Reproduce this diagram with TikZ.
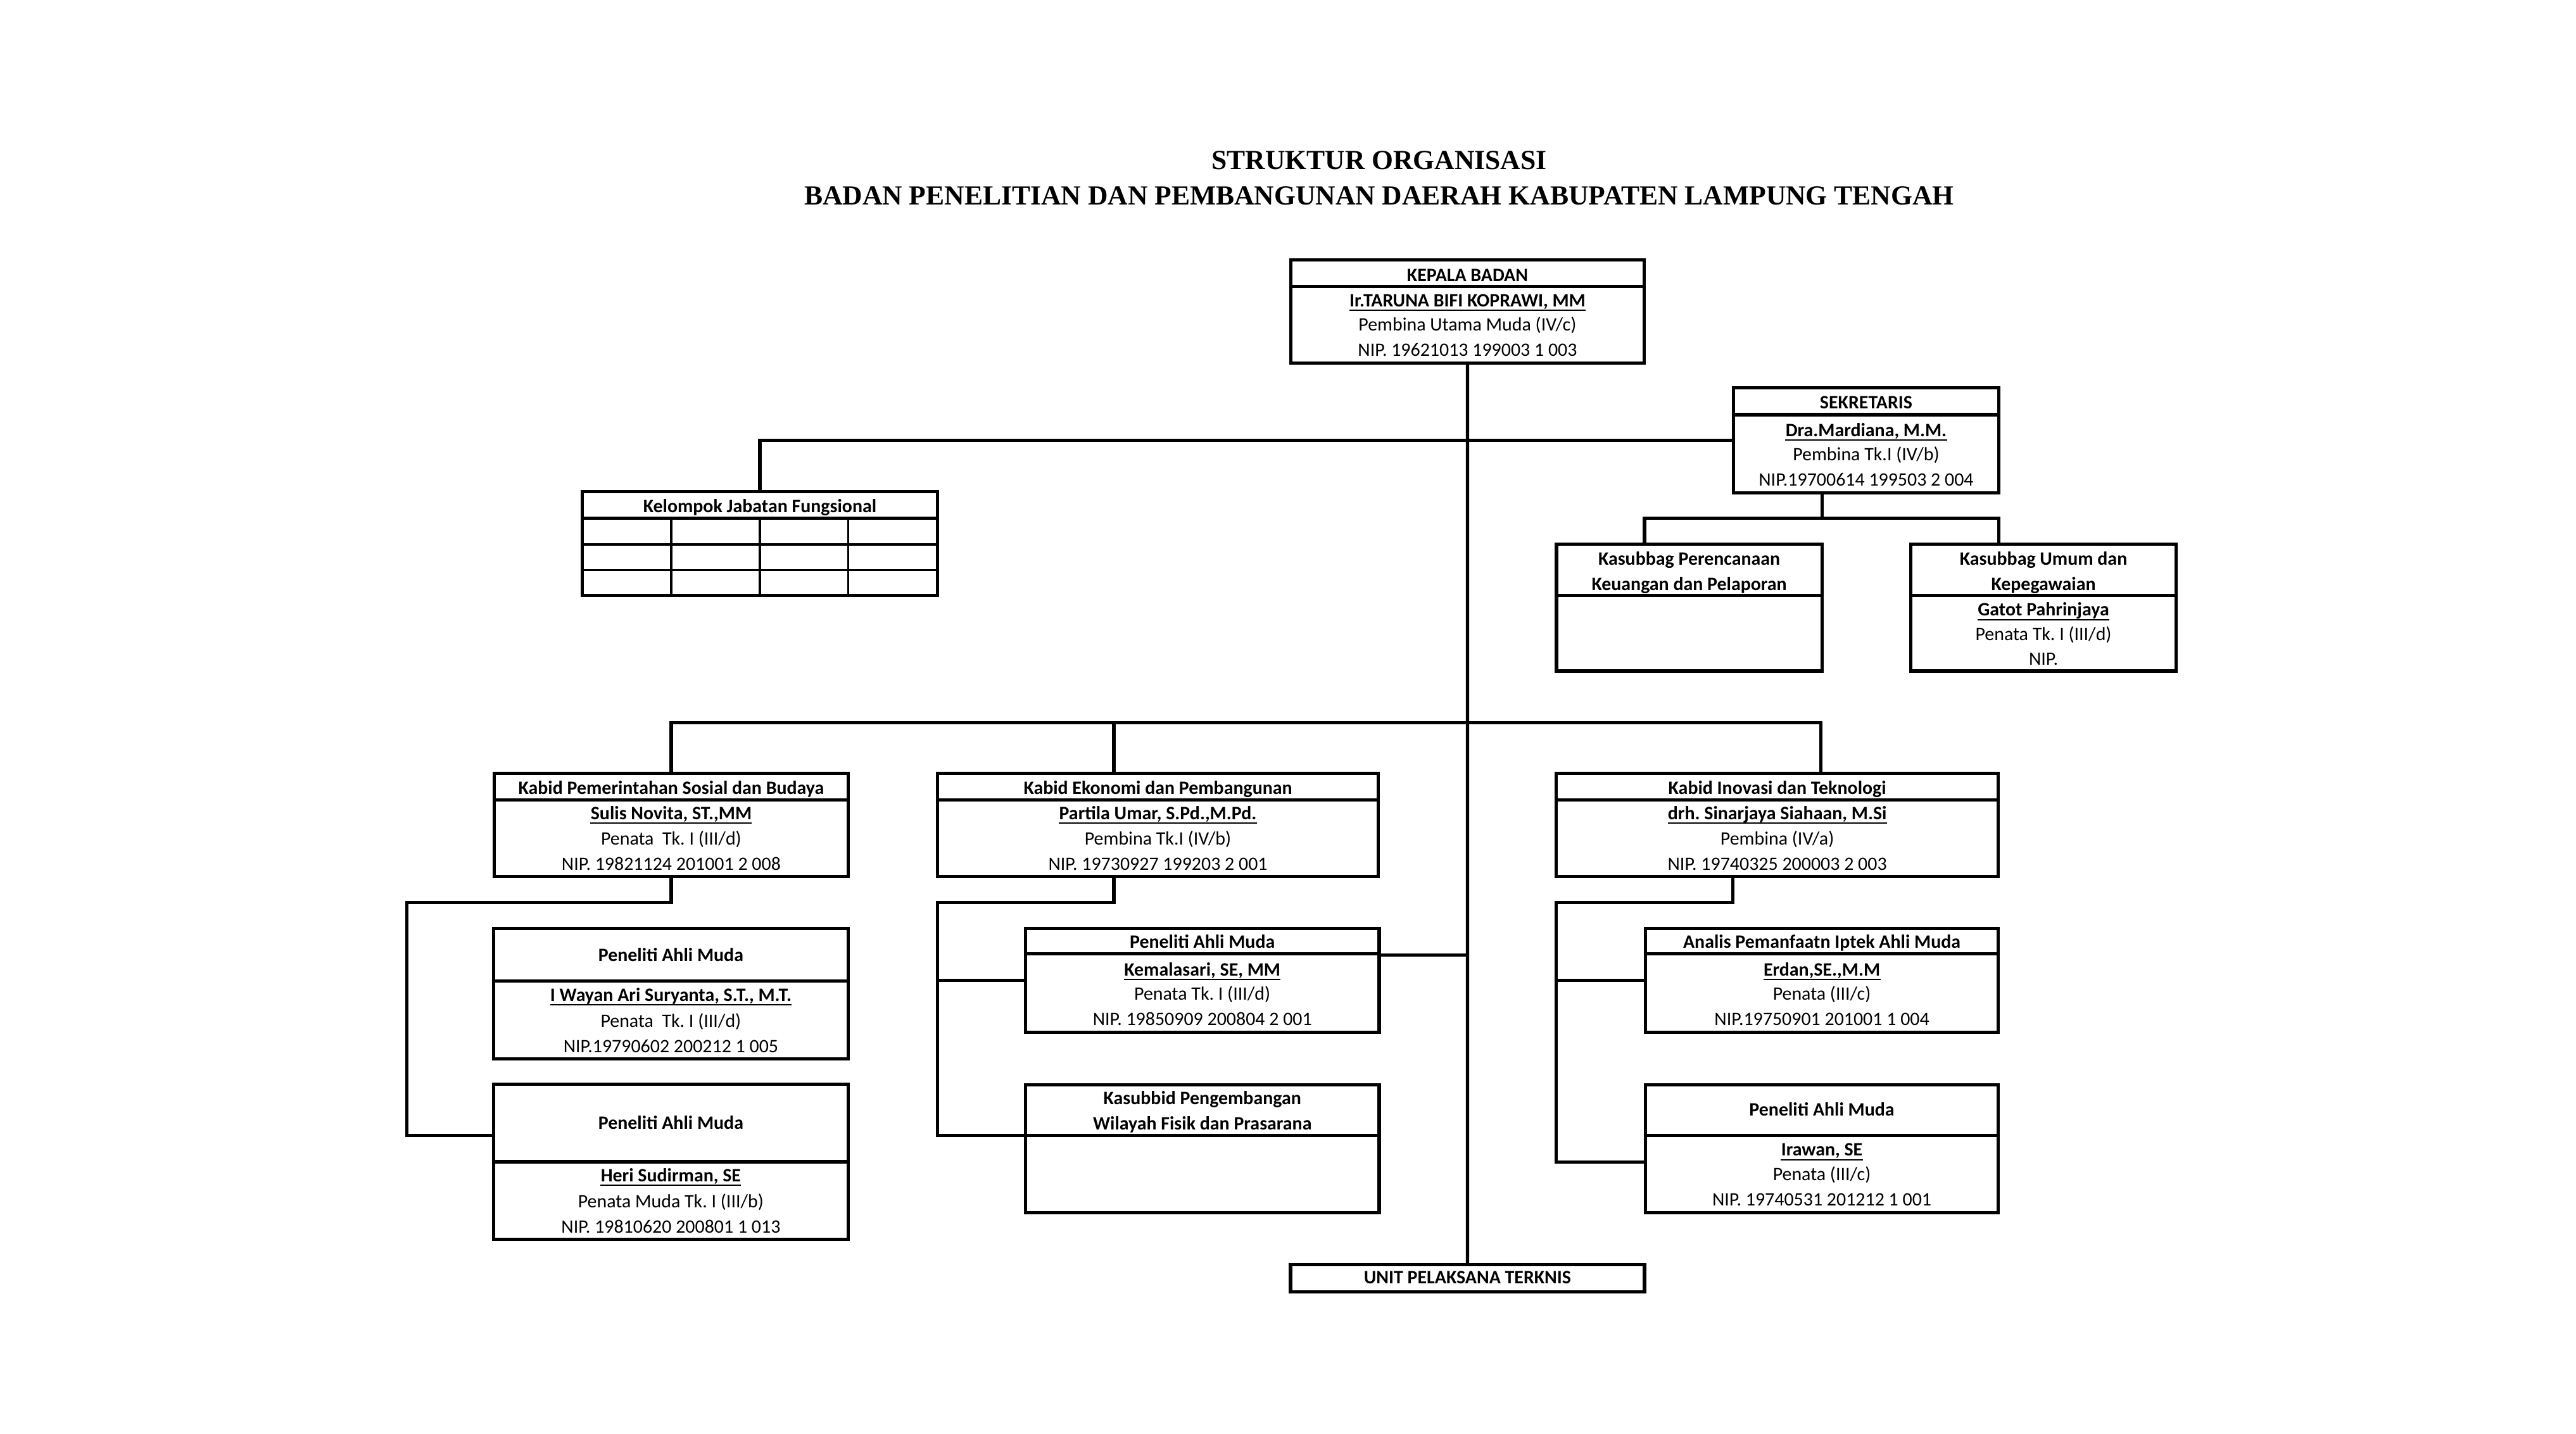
\documentclass[tikz,border=0pt]{standalone}
\usepackage{fontspec}
\setmainfont{Carlito}
\newfontfamily\judulfont{Liberation Serif}
\usetikzlibrary{positioning,fit,calc}
\frenchspacing

% nama pejabat, bergaris bawah
\newcommand{\nama}[3]{%
  \node[namateks] (#1) at (#2) {#3};
  \draw[garis] ([yshift=-1.15mm]#1.base west) -- ([yshift=-1.15mm]#1.base east);}

\begin{document}
\begin{tikzpicture}[
    x=0.5mm, y=-0.5mm,
    kotak/.style={draw, line width=1mm, inner sep=0pt},
    hubung/.style={line width=1mm},
    sekat/.style={line width=1mm},
    kisi/.style={line width=0.65mm},
    teks/.style={anchor=base, inner sep=0pt, font=\fontsize{16.4}{19}\selectfont},
    tebal/.style={anchor=base, inner sep=0pt, font=\fontsize{16.4}{19}\selectfont\bfseries},
    namateks/.style={tebal},
    garis/.style={line width=0.4mm},
    judul/.style={anchor=base, inner sep=0pt, font=\judulfont\fontsize{23.9}{28}\selectfont\bfseries}
]
    \useasboundingbox[fill=white] (0,0) rectangle (1568,872.7);

    % Judul
    \node[judul] (judul1) at (839.5,103) {STRUKTUR ORGANISASI};
    \node[judul] (judul2) at (839.5,124.6) {BADAN PENELITIAN DAN PEMBANGUNAN DAERAH KABUPATEN LAMPUNG TENGAH};

    % Kotak
    \node[kotak, fit={(785.7,158.1) (1000.8,220.9)}] (kb) {};
    \node[kotak, fit={(1055,236.2) (1216.8,300)}] (sek) {};
    \node[kotak, fit={(354.5,299.4) (570.5,362.6)}] (kjf) {};
    \node[kotak, fit={(947.4,331.3) (1109,408.6)}] (kpk) {};
    \node[kotak, fit={(1163,331.3) (1324.7,408.6)}] (kuk) {};
    \node[kotak, fit={(300.9,470.8) (516.2,533.6)}] (kpsb) {};
    \node[kotak, fit={(570.7,470.8) (838.9,533.6)}] (kep) {};
    \node[kotak, fit={(947.3,470.8) (1216.3,533.6)}] (kit) {};
    \node[kotak, fit={(300.5,565.4) (516.2,644.5)}] (pam1) {};
    \node[kotak, fit={(300.5,660.2) (516.2,754.4)}] (pam2) {};
    \node[kotak, fit={(624.2,565.4) (839.5,628.6)}] (pam3) {};
    \node[kotak, fit={(624.2,660.5) (839.5,738.2)}] (ksp) {};
    \node[kotak, fit={(1001.5,565.4) (1216.4,628.6)}] (aip) {};
    \node[kotak, fit={(1001.5,660.5) (1216.4,738.2)}] (pam4) {};
    \node[kotak, fit={(785.5,770) (1001,786.4)}] (upt) {};

    % Sekat kepala kotak
    \foreach \n/\y in {kb/174.5, sek/252.5, kjf/315.4, kpk/362.6, kuk/362.6,
        kpsb/487, kep/487, kit/487, pam1/597.2, pam2/707.3,
        pam3/580.8, ksp/691.3, aip/580.8, pam4/691.3}
        \draw[sekat] (\n.west |- 0,\y) -- (\n.east |- 0,\y);

    % Kisi kelompok jabatan fungsional
    \foreach \y in {331.5,347}
        \draw[kisi] (kjf.west |- 0,\y) -- (kjf.east |- 0,\y);
    \foreach \x in {408.6,462.6,516.2}
        \draw[kisi] (\x,315.4) -- (\x,362.6);

    % Garis hubung
    \coordinate (c2) at (893.25,440.1);
    \coordinate (c3) at (1109.2,315.5);
    \draw[hubung] (kb.south) -- (upt.north);
    \draw[hubung] (kjf.north) |- (sek.west);
    \draw[hubung] (sek.south -| c3) -- (c3);
    \draw[hubung] (kpk.north -| 1001,0) |- (c3) -| (kuk.north -| 1216.5,0);
    \draw[hubung] (kpsb.north) |- (c2) -| (kit.north -| 1108.3,0);
    \draw[hubung] (kep.north -| 678,0) -- (678,440.1);
    \draw[hubung] (pam3.east |- 0,581.5) -- (kb.south |- 0,581.5);

    % Bidang
    \coordinate (e1) at (247.5,549.4);
    \coordinate (e2) at (570.7,549.4);
    \coordinate (e3) at (947.3,549.4);
    \draw[hubung] (kpsb.south) |- (e1) |- (pam2.west |- 0,691.2);
    \draw[hubung] (kep.south -| 678,0) |- (e2) |- (ksp.west |- 0,691.3);
    \draw[hubung] (pam3.west) -- (pam3.west -| e2);
    \draw[hubung] (kit.south -| 1054.7,0) |- (e3) |- (pam4.west |- 0,707.4);
    \draw[hubung] (aip.west) -- (aip.west -| e3);

    % Kepala Badan
    \node[tebal] (kbj) at (kb.north |- 0,171.2) {KEPALA BADAN};
    \nama{kbn}{kb.north |- 0,186.6}{Ir.TARUNA BIFI KOPRAWI, MM}
    \node[teks] (kbg) at (kb.north |- 0,201.3) {Pembina Utama Muda (IV/c)};
    \node[teks] (kbp) at (kb.north |- 0,216.7) {NIP. 19621013 199003 1 003};

    % Sekretaris
    \node[tebal] (sekj) at (sek.north |- 0,248.9) {SEKRETARIS};
    \nama{sekn}{sek.north |- 0,265.6}{Dra.Mardiana, M.M.}
    \node[teks] (sekg) at (sek.north |- 0,280.3) {Pembina Tk.I (IV/b)};
    \node[teks] (sekp) at (sek.north |- 0,295.7) {NIP.19700614 199503 2 004};

    \node[tebal] (kjfj) at (kjf.north |- 0,311.9) {Kelompok Jabatan Fungsional};

    % Kasubbag
    \node[tebal] (kpkj1) at (kpk.north |- 0,344) {Kasubbag Perencanaan};
    \node[tebal] (kpkj2) at (kpk.north |- 0,359.5) {Keuangan dan Pelaporan};
    \node[tebal] (kukj1) at (kuk.north |- 0,344) {Kasubbag Umum dan};
    \node[tebal] (kukj2) at (kuk.north |- 0,359.5) {Kepegawaian};
    \nama{kukn}{kuk.north |- 0,374.9}{Gatot Pahrinjaya}
    \node[teks] (kukg) at (kuk.north |- 0,389.7) {Penata Tk. I (III/d)};
    \node[teks] (kukp) at (kuk.north |- 0,405.1) {NIP.};

    % Kabid
    \node[tebal] (kpsbj) at (kpsb.north |- 0,483.5) {Kabid Pemerintahan Sosial dan Budaya};
    \nama{kpsbn}{kpsb.north |- 0,498.9}{Sulis Novita, ST.,MM}
    \node[teks] (kpsbg) at (kpsb.north |- 0,514.3) {Penata\ \ Tk. I (III/d)};
    \node[teks] (kpsbp) at (kpsb.north |- 0,529.7) {NIP. 19821124 201001 2 008};

    \node[tebal] (kepj) at (kep.north |- 0,483.5) {Kabid Ekonomi dan Pembangunan};
    \nama{kepn}{kep.north |- 0,498.9}{Partila Umar, S.Pd.,M.Pd.}
    \node[teks] (kepg) at (kep.north |- 0,514.3) {Pembina Tk.I (IV/b)};
    \node[teks] (kepp) at (kep.north |- 0,529.7) {NIP. 19730927 199203 2 001};

    \node[tebal] (kitj) at (kit.north |- 0,483.5) {Kabid Inovasi dan Teknologi};
    \nama{kitn}{kit.north |- 0,498.9}{drh. Sinarjaya Siahaan, M.Si}
    \node[teks] (kitg) at (kit.north |- 0,514.3) {Pembina (IV/a)};
    \node[teks] (kitp) at (kit.north |- 0,529.7) {NIP. 19740325 200003 2 003};

    % Fungsional dan Kasubbid
    \node[tebal] (pam1j) at (pam1.north |- 0,585.3) {Peneliti Ahli Muda};
    \nama{pam1n}{pam1.north |- 0,609.5}{I Wayan Ari Suryanta, S.T., M.T.}
    \node[teks] (pam1g) at (pam1.north |- 0,625.2) {Penata\ \ Tk. I (III/d)};
    \node[teks] (pam1p) at (pam1.north |- 0,640.9) {NIP.19790602 200212 1 005};

    \node[tebal] (pam2j) at (pam2.north |- 0,687.3) {Peneliti Ahli Muda};
    \nama{pam2n}{pam2.north |- 0,719.4}{Heri Sudirman, SE}
    \node[teks] (pam2g) at (pam2.north |- 0,735.1) {Penata Muda Tk. I (III/b)};
    \node[teks] (pam2p) at (pam2.north |- 0,750.8) {NIP. 19810620 200801 1 013};

    \node[tebal] (pam3j) at (pam3.north |- 0,577.3) {Peneliti Ahli Muda};
    \nama{pam3n}{pam3.north |- 0,594}{Kemalasari, SE, MM}
    \node[teks] (pam3g) at (pam3.north |- 0,608.7) {Penata Tk. I (III/d)};
    \node[teks] (pam3p) at (pam3.north |- 0,624.2) {NIP. 19850909 200804 2 001};

    \node[tebal] (kspj1) at (ksp.north |- 0,672.4) {Kasubbid Pengembangan};
    \node[tebal] (kspj2) at (ksp.north |- 0,687.8) {Wilayah Fisik dan Prasarana};

    \node[tebal] (aipj) at (aip.north |- 0,577.3) {Analis Pemanfaatn Iptek Ahli Muda};
    \nama{aipn}{aip.north |- 0,594}{Erdan,SE.,M.M}
    \node[teks] (aipg) at (aip.north |- 0,608.7) {Penata (III/c)};
    \node[teks] (aipp) at (aip.north |- 0,624.2) {NIP.19750901 201001 1 004};

    \node[tebal] (pam4j) at (pam4.north |- 0,679.4) {Peneliti Ahli Muda};
    \nama{pam4n}{pam4.north |- 0,703.8}{Irawan, SE}
    \node[teks] (pam4g) at (pam4.north |- 0,718.6) {Penata (III/c)};
    \node[teks] (pam4p) at (pam4.north |- 0,734) {NIP. 19740531 201212 1 001};

    % UPT
    \node[tebal] (uptj) at (upt.north |- 0,781.5) {UNIT PELAKSANA TERKNIS};
\end{tikzpicture}
\end{document}
